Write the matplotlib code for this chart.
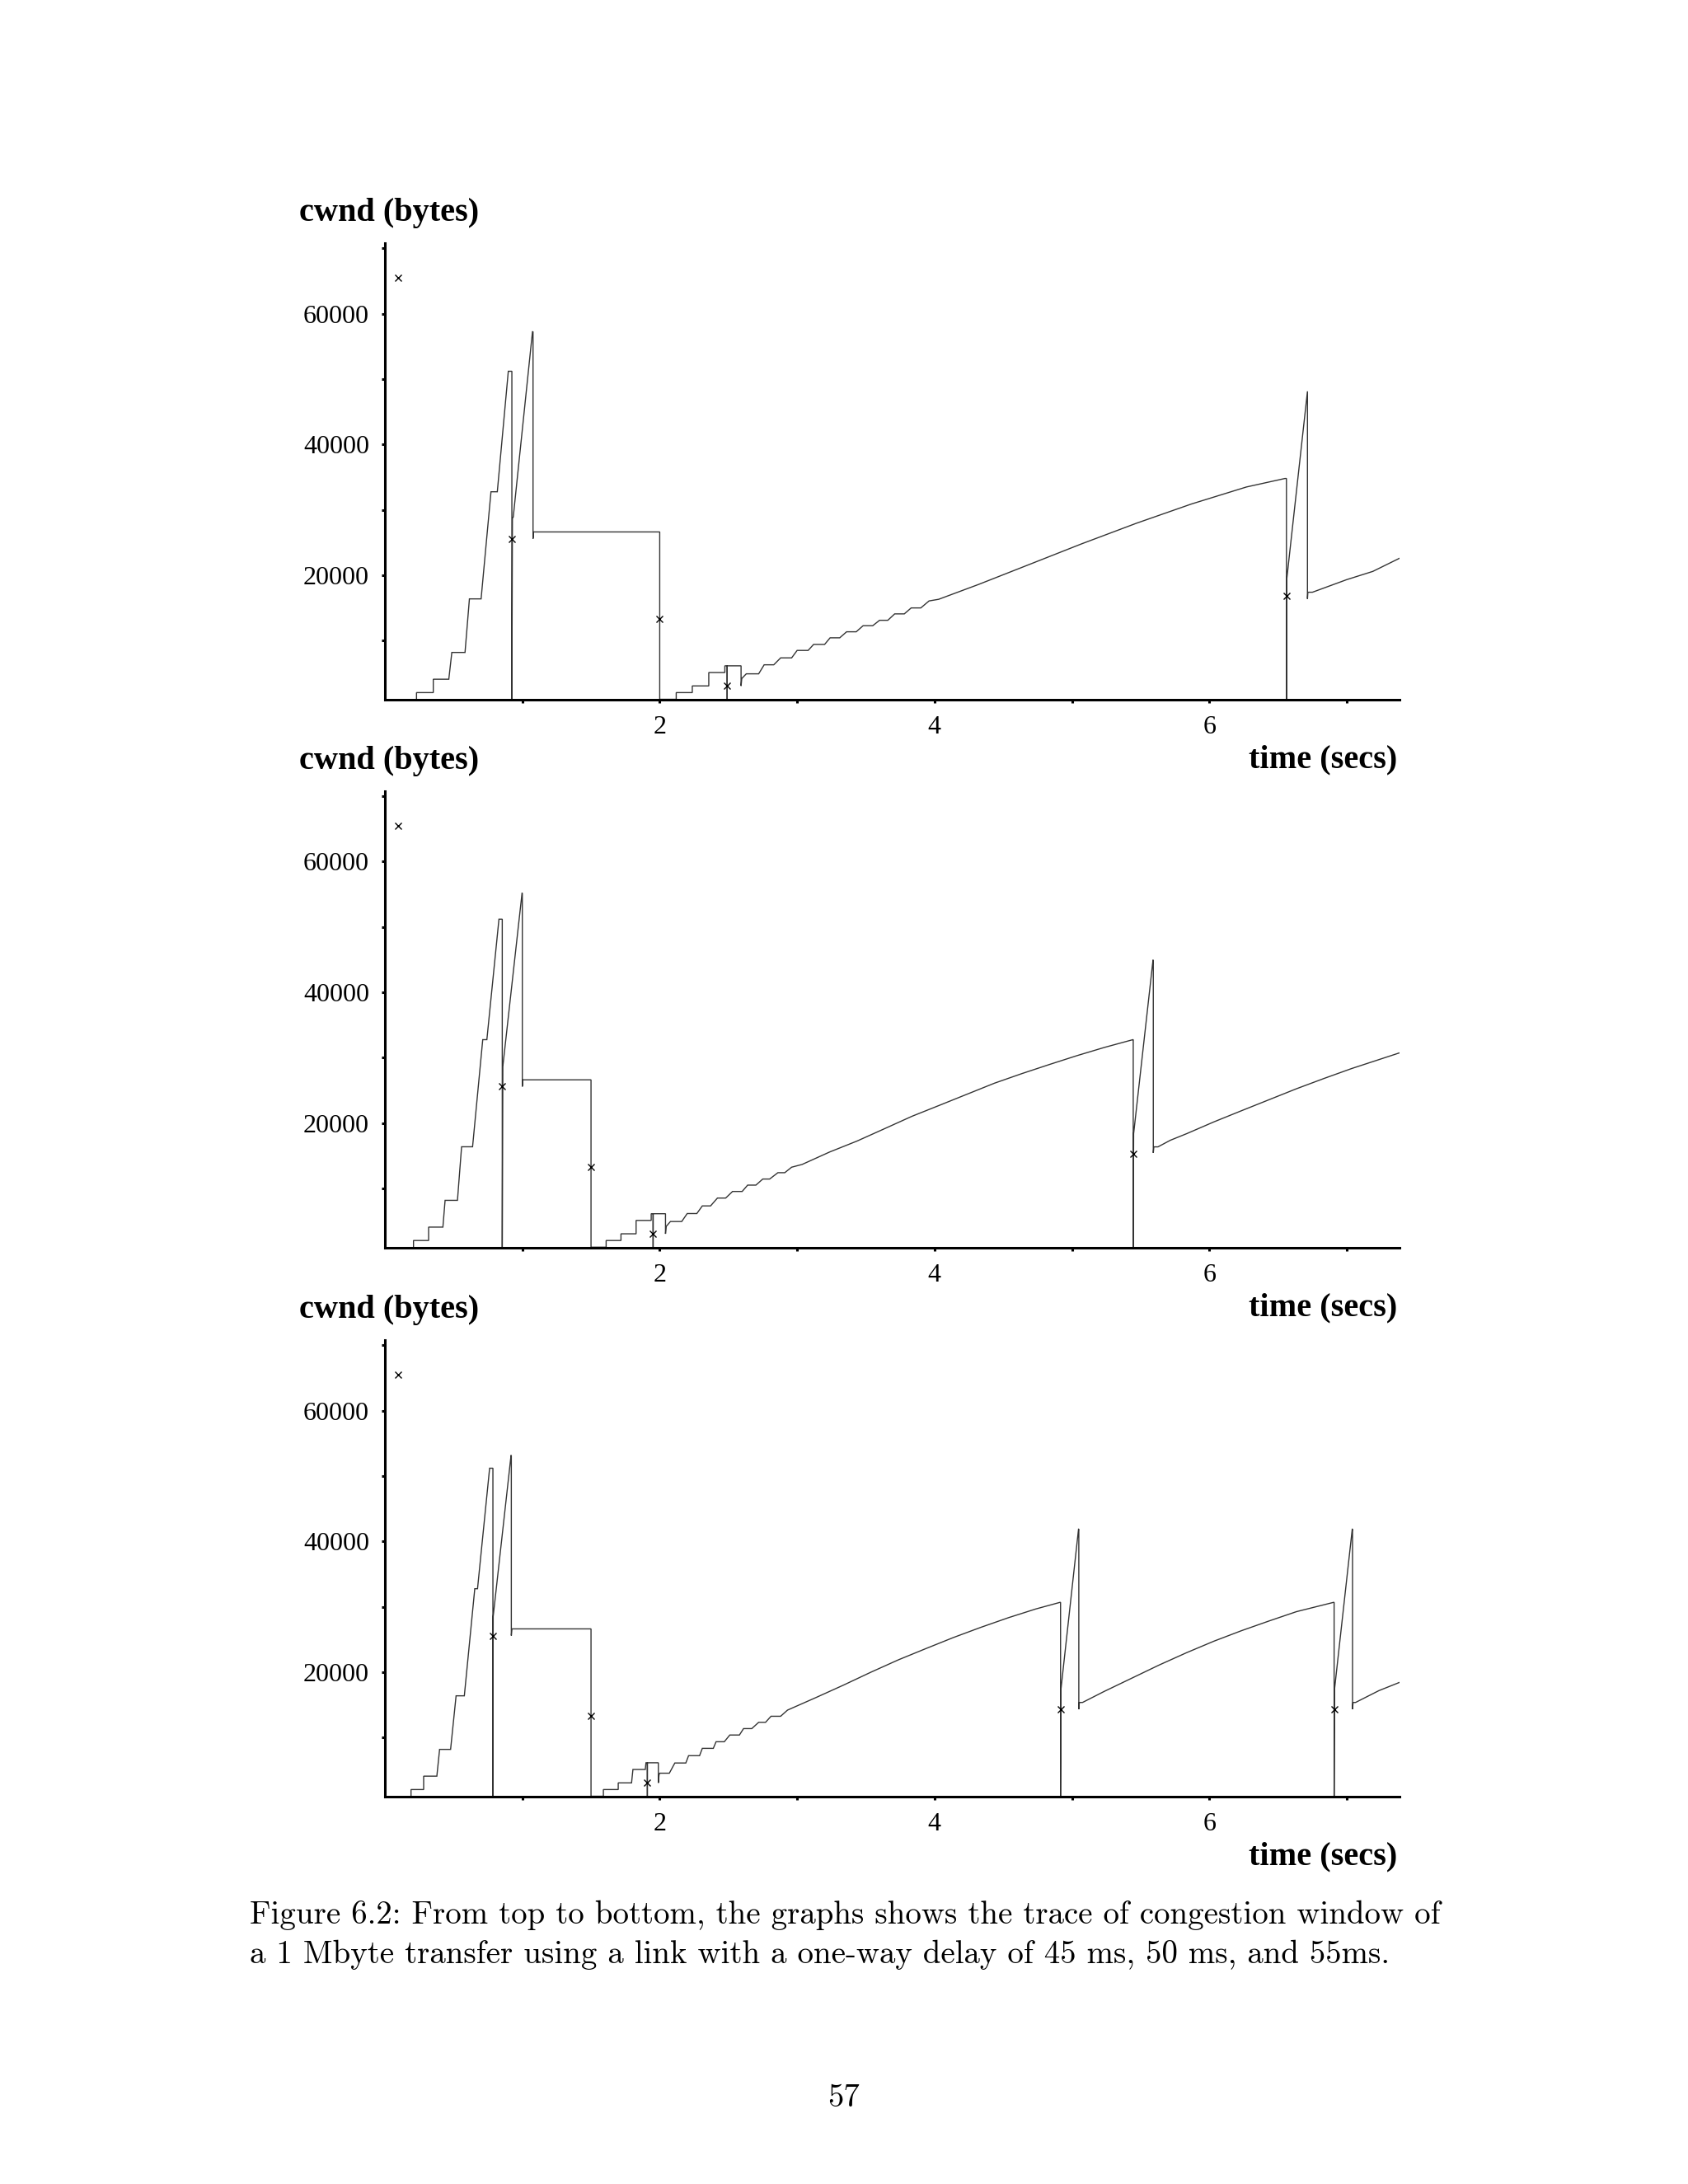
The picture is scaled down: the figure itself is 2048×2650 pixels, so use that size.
import matplotlib
matplotlib.use("Agg")
import matplotlib.pyplot as plt

# ---------------- data ----------------
# Panel 1 (45 ms)
t1 = [0.230, 0.230, 0.352, 0.352, 0.465, 0.487, 0.583, 0.615, 0.700, 0.772, 0.818,
      0.898, 0.924, 0.924, 0.928, 0.934, 1.074, 1.078, 1.078, 1.082, 2.000, 2.000,
      2.120, 2.120, 2.237, 2.237, 2.357, 2.357, 2.474, 2.474, 2.491, 2.491, 2.491,
      2.592, 2.592, 2.597, 2.63, 2.72, 2.76, 2.83, 2.88, 2.96, 3.00, 3.08, 3.12,
      3.20, 3.24, 3.31, 3.36, 3.43, 3.48, 3.55, 3.60, 3.66, 3.71, 3.78, 3.83, 3.90,
      3.96, 4.03, 4.32, 4.69, 5.07, 5.47, 5.87, 6.27, 6.55, 6.561, 6.561, 6.563,
      6.714, 6.714, 6.717, 6.75, 7.00, 7.19, 7.384]
w1 = [1024, 2048, 2048, 4096, 4096, 8192, 8192, 16384, 16384, 32768, 32768,
      51200, 51200, 1024, 28700, 28900, 57250, 57250, 25600, 26624, 26624, 1024,
      1024, 2048, 2048, 3072, 3072, 5120, 5120, 6144, 6144, 1024, 6144,
      6144, 3072, 4200, 4920, 4920, 6300, 6300, 7360, 7360, 8500, 8500, 9420,
      9420, 10430, 10430, 11350, 11350, 12280, 12280, 13110, 13110, 14090, 14090, 15000, 15000,
      16070, 16320, 18590, 21650, 24800, 27960, 30900, 33500, 34800, 34800, 1024, 19330,
      48130, 16390, 17400, 17400, 19330, 20590, 22600]
ssx1 = [0.098, 0.926, 2.000, 2.491, 6.561]
ssy1 = [65535, 25600, 13312, 3072, 16800]

# Panel 2 (50 ms)
t2 = [0.208, 0.208, 0.318, 0.318, 0.422, 0.438, 0.528, 0.558, 0.638, 0.712, 0.742,
      0.830, 0.854, 0.854, 0.858, 0.998, 1.000, 1.000, 1.004, 1.500, 1.500,
      1.610, 1.610, 1.718, 1.718, 1.828, 1.828, 1.938, 1.938, 1.952, 1.952, 1.952,
      2.042, 2.042, 2.047, 2.078, 2.16, 2.20, 2.27, 2.31, 2.37, 2.42, 2.48, 2.53,
      2.60, 2.64, 2.70, 2.75, 2.80, 2.86, 2.91, 2.96, 3.036, 3.236, 3.436, 3.636,
      3.836, 4.036, 4.236, 4.436, 4.636, 4.836, 5.036, 5.236, 5.444, 5.446, 5.446,
      5.449, 5.590, 5.592, 5.592, 5.596, 5.626, 5.716, 5.836, 6.034, 6.234, 6.434,
      6.634, 6.834, 7.034, 7.384]
w2 = [1024, 2048, 2048, 4096, 4096, 8192, 8192, 16384, 16384, 32768, 32768,
      51200, 51200, 1024, 28640, 55180, 55180, 25600, 26624, 26624, 1024,
      1024, 2048, 2048, 3072, 3072, 5120, 5120, 6144, 6144, 1024, 6144,
      6144, 3072, 4200, 4950, 4950, 6170, 6170, 7340, 7340, 8540, 8540, 9550,
      9550, 10520, 10520, 11450, 11450, 12420, 12420, 13260, 13680, 15580, 17260, 19150,
      21050, 22730, 24420, 26110, 27580, 28970, 30320, 31580, 32770, 32770, 1024,
      18400, 44940, 44940, 15450, 16370, 16370, 17380, 18400, 20200, 21900, 23580,
      25260, 26830, 28340, 30750]
ssx2 = [0.098, 0.854, 1.500, 1.952, 5.446]
ssy2 = [65535, 25600, 13312, 3072, 15360]

# Panel 3 (55 ms)
t3 = [0.190, 0.190, 0.282, 0.282, 0.378, 0.398, 0.478, 0.518, 0.578, 0.654, 0.674,
      0.762, 0.786, 0.786, 0.788, 0.918, 0.920, 0.920, 0.924, 1.500, 1.500,
      1.590, 1.590, 1.698, 1.698, 1.795, 1.805, 1.895, 1.900, 1.910, 1.910, 1.910,
      1.990, 1.990, 1.995, 2.00, 2.07, 2.11, 2.19, 2.21, 2.29, 2.31, 2.39, 2.41,
      2.47, 2.51, 2.58, 2.61, 2.67, 2.72, 2.77, 2.81, 2.88, 2.93, 3.137, 3.337,
      3.537, 3.737, 3.937, 4.137, 4.337, 4.537, 4.737, 4.913, 4.917, 4.917, 4.920,
      5.048, 5.050, 5.050, 5.054, 5.077, 5.234, 5.434, 5.634, 5.834, 6.034, 6.234,
      6.434, 6.634, 6.904, 6.908, 6.908, 6.911, 7.040, 7.042, 7.042, 7.046, 7.064,
      7.234, 7.384]
w3 = [1024, 2048, 2048, 4096, 4096, 8192, 8192, 16384, 16384, 32768, 32768,
      51200, 51200, 1024, 28540, 53160, 53160, 25600, 26624, 26624, 1024,
      1024, 2048, 2048, 3072, 3072, 5120, 5120, 6144, 6144, 1024, 6144,
      6144, 3072, 4300, 4550, 4550, 6110, 6110, 7230, 7230, 8350, 8350, 9360,
      9360, 10390, 10390, 11370, 11370, 12330, 12330, 13260, 13260, 14200, 16120, 18020,
      20000, 21890, 23610, 25300, 26860, 28330, 29670, 30680, 30680, 1024, 17390,
      41880, 41880, 14350, 15370, 15370, 17050, 19070, 21090, 22980, 24750, 26350,
      27830, 29260, 30680, 30680, 1024, 17390, 41880, 41880, 14350, 15370, 15370,
      17180, 18440]
ssx3 = [0.098, 0.786, 1.500, 1.910, 4.917, 6.908]
ssy3 = [65535, 25600, 13312, 3072, 14350, 14350]

panels = [(t1, w1, ssx1, ssy1), (t2, w2, ssx2, ssy2), (t3, w3, ssx3, ssy3)]

xticks = [1, 2, 3, 4, 5, 6, 7]
xticklabels = ["", "2", "", "4", "", "6", ""]
yticks = [10000, 20000, 30000, 40000, 50000, 60000, 70000]
yticklabels = ["", "20000", "", "40000", "", "60000", ""]
ylabel_text = "cwnd (bytes)"
xlabel_text = "time (secs)"
caption_lines = [
    "Figure 6.2: From top to bottom, the graphs shows the trace of congestion window of",
    "a 1 Mbyte transfer using a link with a one-way delay of 45 ms, 50 ms, and 55ms.",
]
page_number = "57"

# ---------------- layout ----------------
W, H = 2048, 2650
fig = plt.figure(figsize=(W / 100, H / 100), dpi=100)
fig.patch.set_facecolor("white")

def fx(px):
    return px / W

def fy(py):
    return 1 - py / H

ax_left, ax_right = 467, 1698
ax_bottoms = [848.7, 1513.5, 2179.7]
ax_height = 553.7
serif = "Liberation Serif"

for (tt, ww, sx, sy), bot in zip(panels, ax_bottoms):
    ax = fig.add_axes([fx(ax_left), fy(bot), (ax_right - ax_left) / W, ax_height / H])
    ax.plot(tt, ww, color="#333333", lw=1.0, solid_joinstyle="miter")
    ax.plot(sx, sy, linestyle="none", marker="x", ms=6, mew=1.0, color="black")
    ax.set_xlim(0, 7.384)
    ax.set_ylim(1000, 70800)
    for s in ("top", "right"):
        ax.spines[s].set_visible(False)
    for s in ("left", "bottom"):
        ax.spines[s].set_linewidth(2.2)
        ax.spines[s].set_color("black")
    ax.set_xticks(xticks)
    ax.set_xticklabels(xticklabels, fontfamily=serif, fontsize=23)
    ax.set_yticks(yticks)
    ax.set_yticklabels(yticklabels, fontfamily=serif, fontsize=23)
    ax.tick_params(axis="both", direction="out", length=3.2, width=2.2, color="black")
    ax.tick_params(axis="x", pad=10.5)
    ax.tick_params(axis="y", pad=10.5)
    ax.set_facecolor("none")
    # axis titles
    top = bot - ax_height
    fig.text(fx(362.7), fy(top - 27), ylabel_text, fontfamily=serif, fontweight="bold",
             fontsize=29, ha="left", va="baseline")
    fig.text(fx(1695), fy(bot + 83), xlabel_text, fontfamily=serif, fontweight="bold",
             fontsize=29, ha="right", va="baseline")

# caption, fitted to the measured line width
cap_fs = 30
c1 = fig.text(fx(302.7), fy(2334), caption_lines[0], fontfamily="cmr10", fontsize=cap_fs,
              ha="left", va="baseline")
fig.canvas.draw()
r = fig.canvas.get_renderer()
wpx = c1.get_window_extent(r).width
cap_fs = cap_fs * 1444 / wpx
c1.set_fontsize(cap_fs)
fig.text(fx(302.7), fy(2382), caption_lines[1], fontfamily="cmr10", fontsize=cap_fs,
         ha="left", va="baseline")
fig.text(fx(1024), fy(2556), page_number, fontfamily="cmr10", fontsize=cap_fs,
         ha="center", va="baseline")

fig.savefig("out.png", dpi=100, facecolor="white")
